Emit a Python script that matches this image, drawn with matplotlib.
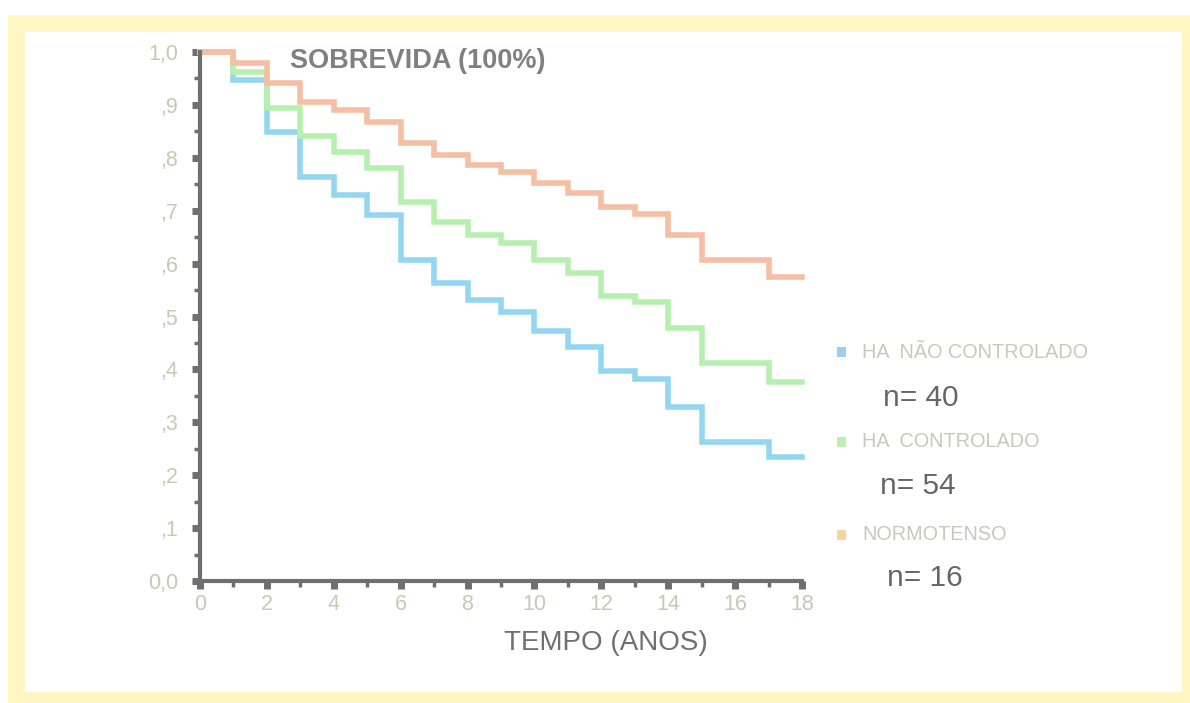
import matplotlib
matplotlib.use("Agg")
import matplotlib.pyplot as plt
from matplotlib.patches import Rectangle
from matplotlib.ticker import MultipleLocator

plt.rcParams['font.family'] = ['Liberation Sans', 'DejaVu Sans']

# ---- data ----
anos = list(range(0, 19))
ha_nao_controlado = [1.0, 0.947, 0.849, 0.764, 0.730, 0.692, 0.607, 0.563, 0.531, 0.509,
                     0.473, 0.442, 0.397, 0.382, 0.329, 0.263, 0.263, 0.234, 0.234]
ha_controlado = [1.0, 0.962, 0.894, 0.841, 0.811, 0.781, 0.716, 0.679, 0.654, 0.639,
                 0.607, 0.582, 0.539, 0.527, 0.478, 0.412, 0.412, 0.376, 0.376]
normotenso = [1.0, 0.979, 0.941, 0.905, 0.890, 0.868, 0.828, 0.805, 0.786, 0.773,
              0.752, 0.733, 0.707, 0.694, 0.654, 0.607, 0.607, 0.575, 0.575]

series_labels = ["HA  NÃO CONTROLADO", "HA  CONTROLADO", "NORMOTENSO"]
series_n = ["n= 40", "n= 54", "n= 16"]
y_ticks = [0.0, 0.1, 0.2, 0.3, 0.4, 0.5, 0.6, 0.7, 0.8, 0.9, 1.0]
y_ticklabels = ["0,0", ",1", ",2", ",3", ",4", ",5", ",6", ",7", ",8", ",9", "1,0"]
x_ticks = [0, 2, 4, 6, 8, 10, 12, 14, 16, 18]

line_colors = ['#92d6f2', '#b6f0ae', '#f6bea2']
legend_colors = ['#a2ccf2', '#bdefb5', '#f5d3a2']

W, H = 1190, 703
fig = plt.figure(figsize=(W / 100, H / 100), dpi=100, facecolor='white')

# yellow frame
fig.add_artist(Rectangle((8 / W, 0), 1 - 8 / W, (H - 15) / H, transform=fig.transFigure,
                         facecolor='#fff6c4', edgecolor='none', zorder=-10))
fig.add_artist(Rectangle((25 / W, 1 - 692 / H), (1182 - 25) / W, (692 - 32) / H,
                         transform=fig.transFigure, facecolor='white', edgecolor='none', zorder=-9))

ax = fig.add_axes([200 / W, 1 - 581 / H, (802 - 200) / W, (581 - 52) / H])
ax.patch.set_alpha(0)

for vals, c in zip([ha_nao_controlado, ha_controlado, normotenso], line_colors):
    ax.step(anos, vals, where='post', color=c, lw=4, solid_joinstyle='miter', clip_on=False)

ax.set_xlim(0, 18)
ax.set_ylim(0, 1.0)
for s in ['top', 'right']:
    ax.spines[s].set_visible(False)
axis_col = '#6f6f6f'
for s in ['left', 'bottom']:
    ax.spines[s].set_color(axis_col)
    ax.spines[s].set_linewidth(3)

ax.set_xticks(x_ticks)
ax.set_xticklabels([str(v) for v in x_ticks])
ax.xaxis.set_minor_locator(MultipleLocator(1))
ax.set_yticks(y_ticks)
ax.set_yticklabels(y_ticklabels)
ax.yaxis.set_minor_locator(MultipleLocator(0.05))

ax.tick_params(which='major', length=6, width=5, color=axis_col, labelsize=15.5,
               labelcolor='#c8c8b4')
ax.tick_params(which='minor', length=4, width=2.5, color=axis_col)
ax.tick_params(axis='x', which='major', pad=3)
ax.tick_params(axis='y', which='major', pad=10)

ax.set_xlabel("TEMPO (ANOS)", fontsize=20, color='#707070')
ax.xaxis.set_label_coords((606 - 200) / (802 - 200), -(643 - 581) / (581 - 52))
ax.xaxis.label.set_va('center')

fig.text(290 / W, 1 - 61 / H, "SOBREVIDA (100%)", fontsize=19.5, fontweight='bold',
         color='#808080', ha='left', va='center')

# legend
sq_y = [352, 442, 535]
n_pos = [(883, 398), (880, 486), (887, 578)]
for lab, n, c, yy, (nx, ny) in zip(series_labels, series_n, legend_colors, sq_y, n_pos):
    fig.add_artist(Rectangle((837 / W, 1 - (yy + 5) / H), 9 / W, 10 / H,
                             transform=fig.transFigure, facecolor=c, edgecolor='none'))
    fig.text(862 / W, 1 - yy / H, lab, fontsize=14.3, color='#c8c8c0', ha='left', va='center')
    fig.text(nx / W, 1 - ny / H, n, fontsize=21.5, color='#666666', ha='left', va='center')

fig.savefig("out.png", dpi=100, facecolor='white')
